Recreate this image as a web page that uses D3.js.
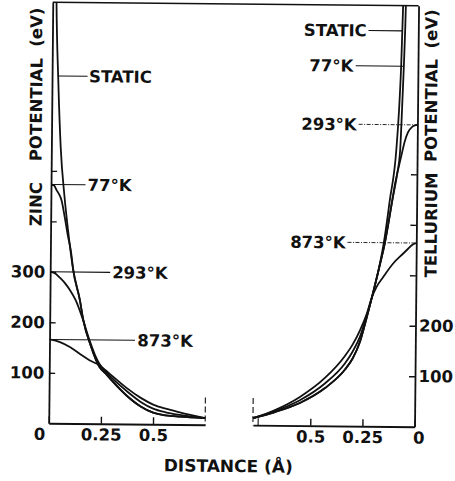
<!DOCTYPE html>
<html>
<head>
<meta charset="utf-8">
<script src="https://cdn.jsdelivr.net/npm/d3@7"></script>
<style>
  html, body { margin: 0; padding: 0; background: #fff; }
  svg { display: block; }
  text { font-family: "DejaVu Sans", sans-serif; font-weight: bold; font-size: 16.5px; fill: #111; }
</style>
</head>
<body>
<svg id="chart" width="455" height="481"></svg>
<script>
// Zinc side (left panel): distance from the Zn site (Å) and potential (eV)
const znStaticD = [0.012, 0.018, 0.03, 0.045, 0.065, 0.083, 0.11, 0.144, 0.16, 0.2, 0.24, 0.27, 0.3, 0.373, 0.44, 0.5, 0.56, 0.628, 0.75];
const znStaticV = [1000, 834, 680, 545, 450, 385, 305, 244, 207, 152, 113, 100, 86, 56, 35, 23, 18, 15.5, 13];
const zn77D = [0, 0.015, 0.027, 0.04, 0.051, 0.067, 0.083, 0.099, 0.11, 0.144, 0.16, 0.2, 0.24, 0.27, 0.3, 0.373, 0.44, 0.5, 0.56, 0.628, 0.75];
const zn77V = [473, 471, 462, 453, 442, 409, 372, 340, 305, 244, 207, 152, 113, 100, 86, 56, 35, 23, 18, 15.5, 13];
const zn293D = [0, 0.02, 0.048, 0.075, 0.096, 0.124, 0.16, 0.192, 0.22, 0.24, 0.27, 0.303, 0.373, 0.44, 0.5, 0.56, 0.628, 0.75];
const zn293V = [300, 298, 288, 276, 264, 244, 205, 165, 135, 119, 104, 90, 65, 44, 31, 24, 19, 13];
const zn873D = [0, 0.05, 0.1, 0.15, 0.2, 0.24, 0.27, 0.305, 0.373, 0.44, 0.5, 0.56, 0.628, 0.75];
const zn873V = [166, 161, 151, 137, 124, 116, 106, 94, 71, 52, 39, 31, 24, 13];

// Tellurium side (right panel): distance from the Te site (Å) and potential (eV)
const teStaticD = [0.07, 0.0737, 0.0805, 0.0866, 0.1, 0.129, 0.156, 0.18, 0.21, 0.235, 0.265, 0.3, 0.336, 0.431, 0.551, 0.67, 0.775];
const teStaticV = [920, 839, 716, 647, 548, 448, 363, 309, 256, 214, 168, 134, 112, 75, 45, 26.5, 14];
const te77D = [0.058, 0.0606, 0.0676, 0.073, 0.0816, 0.095, 0.117, 0.151, 0.18, 0.21, 0.235, 0.265, 0.3, 0.336, 0.431, 0.551, 0.67, 0.775];
const te77V = [920, 839, 716, 647, 548, 500, 448, 363, 309, 256, 214, 168, 134, 112, 75, 45, 26.5, 14];
const te293D = [0, 0.012, 0.025, 0.045, 0.06, 0.075, 0.09, 0.105, 0.117, 0.151, 0.18, 0.21, 0.235, 0.266, 0.3, 0.337, 0.432, 0.551, 0.67, 0.775];
const te293V = [598, 597, 594, 583, 565, 538, 510, 480, 448, 363, 309, 256, 218, 177, 148, 124, 84, 50.5, 28.5, 14];
const te873D = [0, 0.02, 0.04, 0.062, 0.11, 0.157, 0.189, 0.21, 0.235, 0.266, 0.3, 0.337, 0.432, 0.551, 0.67, 0.775];
const te873V = [364, 360, 352, 343, 323, 296, 276, 256, 222, 190, 162, 139, 95, 57, 30.5, 14];

// Axis ticks
const potentialTicks = [100, 200, 300, 400, 500];
const znLabelledTicks = [100, 200, 300];
const teLabelledTicks = [100, 200];
const distanceTicks = [0, 0.25, 0.5];

// Curve labels
const curveNames = ["STATIC", "77°K", "293°K", "873°K"];

// ---------------------------------------------------------------
const svg = d3.select("#chart");
const g = svg.append("g").attr("transform", "rotate(0.55 232 240)");

const xZn = d3.scaleLinear().domain([0, 0.75]).range([50.5, 206.9]);
const xTe = d3.scaleLinear().domain([0, 0.775]).range([416.3, 254.7]);
const y = d3.scaleLinear().domain([0, 834]).range([425, 4]);

const ink = "#111";

svg.append("defs").append("clipPath").attr("id", "plotClip")
  .append("rect")
  .attr("x", xZn(0)).attr("y", y(834))
  .attr("width", xTe(0) - xZn(0)).attr("height", y(0) - y(834));

// top frame line
g.append("line")
  .attr("x1", xZn(0)).attr("x2", xTe(0))
  .attr("y1", y(834)).attr("y2", y(834))
  .attr("stroke", ink).attr("stroke-width", 1.6);

// curves
const curves = g.append("g").attr("clip-path", "url(#plotClip)");
function pts(ds, vs, xs) {
  return ds.map((d, i) => [xs(d), y(vs[i])]).sort((a, b) => a[0] - b[0]);
}
const line = d3.line().curve(d3.curveMonotoneX);
const series = [
  pts(znStaticD, znStaticV, xZn), pts(zn77D, zn77V, xZn),
  pts(zn293D, zn293V, xZn), pts(zn873D, zn873V, xZn),
  pts(teStaticD, teStaticV, xTe), pts(te77D, te77V, xTe),
  pts(te293D, te293V, xTe), pts(te873D, te873V, xTe)
];
curves.selectAll("path").data(series).join("path")
  .attr("d", line)
  .attr("fill", "none")
  .attr("stroke", ink)
  .attr("stroke-width", 1.8)
  .attr("stroke-linejoin", "round");

// axes
function styleAxis(sel) {
  sel.attr("color", ink).attr("font-size", null).attr("font-family", null);
  sel.select(".domain").attr("stroke-width", 1.8);
  sel.selectAll(".tick line").attr("stroke-width", 1.4);
}
g.append("g")
  .attr("transform", `translate(${xZn(0)},0)`)
  .call(d3.axisLeft(y).tickValues(potentialTicks).tickSize(-6).tickSizeOuter(0).tickPadding(5)
    .tickFormat(v => znLabelledTicks.includes(v) ? v : ""))
  .call(styleAxis);

g.append("g")
  .attr("transform", `translate(${xTe(0)},0)`)
  .call(d3.axisRight(y).tickValues(potentialTicks).tickSize(-6).tickSizeOuter(0).tickPadding(3.5)
    .tickFormat(v => teLabelledTicks.includes(v) ? v : ""))
  .call(styleAxis);

const fmt = v => String(v);
const bz = g.append("g")
  .attr("transform", `translate(0,${y(0)})`)
  .call(d3.axisBottom(xZn).tickValues(distanceTicks).tickSize(-7).tickSizeOuter(0).tickPadding(5).tickFormat(fmt))
  .call(styleAxis);
bz.selectAll(".tick").filter(d => d === 0).select("text").attr("dx", -9.5);

const bt = g.append("g")
  .attr("transform", `translate(0,${y(0)})`)
  .call(d3.axisBottom(xTe).tickValues(distanceTicks).tickSize(-7).tickSizeOuter(0).tickPadding(5).tickFormat(fmt))
  .call(styleAxis);
bt.selectAll(".tick").filter(d => d === 0).select("text").attr("dx", 4);

// break marks where the two distance scales meet
[xZn(0.75), xTe(0.775)].forEach(xp => {
  g.append("line")
    .attr("x1", xp).attr("x2", xp)
    .attr("y1", y(54)).attr("y2", y(0))
    .attr("stroke", ink).attr("stroke-width", 1.1)
    .attr("stroke-dasharray", "6,3");
});
g.append("line")
  .attr("x1", xTe(0.75)).attr("x2", xTe(0.75))
  .attr("y1", y(14)).attr("y2", y(0))
  .attr("stroke", ink).attr("stroke-width", 1.1);

// value -> distance on a falling curve (linear between readings)
function distAt(ds, vs, v) {
  for (let i = 0; i < vs.length - 1; i++) {
    if ((vs[i] - v) * (vs[i + 1] - v) <= 0) {
      const t = (v - vs[i]) / (vs[i + 1] - vs[i]);
      return ds[i] + t * (ds[i + 1] - ds[i]);
    }
  }
  return ds[0];
}

// leader lines and curve labels
const leaders = g.append("g").attr("stroke", ink);
function leader(x1, x2, v, dashed) {
  leaders.append("line")
    .attr("x1", x1).attr("x2", x2).attr("y1", y(v)).attr("y2", y(v))
    .attr("stroke-width", dashed ? 0.9 : 1.1)
    .attr("stroke-dasharray", dashed ? "4,1.5,1,1.5" : null);
}
function label(txt, xp, v, anchor) {
  g.append("text").attr("x", xp).attr("y", y(v)).attr("dy", "0.36em")
    .attr("text-anchor", anchor).text(txt);
}

// left (Zn)
const znStaticLabelV = 688;
leader(xZn(distAt(znStaticD, znStaticV, znStaticLabelV)), 86, znStaticLabelV, false);
label(curveNames[0], 87.5, znStaticLabelV, "start");
leader(xZn(0), 85, zn77V[0], false);
label(curveNames[1], 87, zn77V[0], "start");
leader(xZn(0), 110.5, zn293V[0], false);
label(curveNames[2], 112.5, zn293V[0], "start");
leader(xZn(0), 136, zn873V[0], false);
label(curveNames[3], 138.3, zn873V[0], "start");

// right (Te)
const teStaticLabelV = 784;
const te77LabelV = 714;
leader(366.5, xTe(distAt(teStaticD, teStaticV, teStaticLabelV)), teStaticLabelV, false);
label(curveNames[0], 364.7, teStaticLabelV, "end");
leader(354, xTe(distAt(te77D, te77V, te77LabelV)), te77LabelV, false);
label(curveNames[1], 351.6, te77LabelV, "end");
leader(357.5, xTe(0), te293V[0], true);
label(curveNames[2], 355.6, te293V[0], "end");
leader(347.5, xTe(0), te873V[0], true);
label(curveNames[3], 345.7, te873V[0], "end");

// axis titles
function vWord(txt, xp, yp) {
  g.append("text")
    .attr("transform", `translate(${xp},${yp}) rotate(-90)`)
    .attr("text-anchor", "middle").attr("dy", "0.36em")
    .text(txt);
}
vWord("ZINC", 35.3, 206);
vWord("POTENTIAL", 34.8, 111.5);
vWord("(eV)", 34.2, 29);
vWord("TELLURIUM", 430.8, 223);
vWord("POTENTIAL", 429.8, 108.5);
vWord("(eV)", 429.2, 27);

g.append("text")
  .attr("x", 230.5).attr("y", 472)
  .attr("text-anchor", "middle")
  .style("font-size", "17px")
  .text("DISTANCE (Å)");
</script>
</body>
</html>
